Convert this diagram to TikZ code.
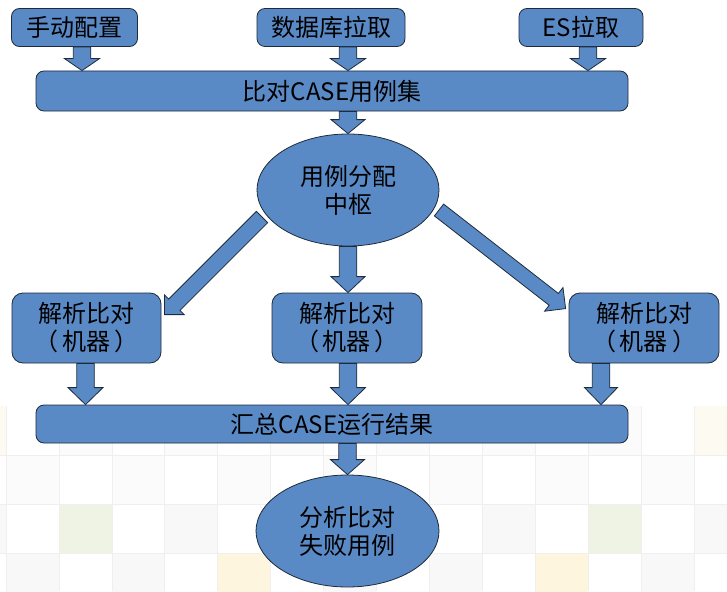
\documentclass[tikz,border=0pt]{standalone}
\usepackage{fontspec}
\setmainfont{Noto Sans CJK SC}
\usetikzlibrary{calc,shapes.geometric}

\definecolor{boxblue}{HTML}{5A8AC6}
\definecolor{boxline}{HTML}{1D2B3C}
\definecolor{gridline}{HTML}{EFEFEF}
\definecolor{cellgray}{HTML}{F8F8F8}
\definecolor{cellpale}{HTML}{FBFBFB}
\definecolor{cellgreen}{HTML}{EEF3E3}
\definecolor{cellyellow}{HTML}{FDF5DE}
\definecolor{cellcream}{HTML}{FDFBF1}

\tikzset{
  shapebase/.style={draw=boxline, line width=0.8pt, fill=boxblue, text=black,
    inner sep=0pt, font=\fontsize{24}{28}\selectfont, align=center},
  smallbox/.style={shapebase, rectangle, rounded corners=8pt},
  bigbox/.style={shapebase, rectangle, rounded corners=11pt},
  hub/.style={shapebase, ellipse},
  blockarrow/.style={draw=boxline, line width=0.8pt, fill=boxblue, line join=miter},
}

% bracketed caption with a little air inside the full-width parentheses
\newcommand\machinetag{（\kern4pt 机器\kern4pt ）}

% block arrow: #1 tail, #2 tip, #3 shaft half-width, #4 head half-width, #5 head length
\newcommand\blockarrow[5]{%
  \coordinate (ahbase) at ($(#2)!#5!(#1)$);
  \draw[blockarrow]
    ($(#1)!#3!90:(#2)$) -- ($(ahbase)!#3!90:(#2)$) -- ($(ahbase)!#4!90:(#2)$)
    -- (#2)
    -- ($(ahbase)!#4!-90:(#2)$) -- ($(ahbase)!#3!-90:(#2)$) -- ($(#1)!#3!-90:(#2)$)
    -- cycle;
}

\begin{document}
\begin{tikzpicture}[x=1pt, y=-1pt]
\useasboundingbox (0,0) rectangle (727,591);
\fill[white] (0,0) rectangle (727,591);

% faint tiled floor in the lower part
\foreach \c in {-1,1,3,5,7,9,11}
  \fill[cellpale] ({6+52.92*\c},406) rectangle ++(52.92,49);
\foreach \c in {-1,13}
  \fill[cellcream] ({6+52.92*\c},406) rectangle ++(52.92,49);
\foreach \c in {0,2,...,12}
  \fill[cellpale] ({6+52.92*\c},455) rectangle ++(52.92,49);
\foreach \c in {-1,3,5,7,9,13}
  \fill[cellgray] ({6+52.92*\c},504) rectangle ++(52.92,49);
\foreach \c in {1,11}
  \fill[cellgreen] ({6+52.92*\c},504) rectangle ++(52.92,49);
\foreach \c in {0,2,6,8,12}
  \fill[cellgray] ({6+52.92*\c},553) rectangle ++(52.92,49);
\foreach \c in {4,10}
  \fill[cellyellow] ({6+52.92*\c},553) rectangle ++(52.92,49);
\foreach \c in {0,...,13}
  \draw[gridline, line width=0.6pt] ({6+52.92*\c},406) -- ({6+52.92*\c},591);
\foreach \r in {455,504,553}
  \draw[gridline, line width=0.6pt] (0,\r) -- (727,\r);

% sources
\node[smallbox, minimum width=126pt, minimum height=38pt] (src1) at (74.5,27.5) {手动配置};
\node[smallbox, minimum width=148pt, minimum height=38pt] (src2) at (331,27.5) {数据库拉取};
\node[smallbox, minimum width=124pt, minimum height=38pt] (src3) at (581,27.5) {ES拉取};

% collected case set
\node[smallbox, minimum width=592pt, minimum height=40pt] (caseset) at (332,91) {比对CASE用例集};

% dispatcher
\node[hub, minimum width=182pt, minimum height=112pt] (hub) at (348,190) {用例分配\\中枢};

% comparison workers
\node[bigbox, minimum width=149pt, minimum height=70pt] (work1) at (86.5,328) {解析比对\\\machinetag};
\node[bigbox, minimum width=150pt, minimum height=70pt] (work2) at (347,328) {解析比对\\\machinetag};
\node[bigbox, minimum width=150pt, minimum height=70pt] (work3) at (644,328) {解析比对\\\machinetag};

% summary
\node[smallbox, minimum width=592pt, minimum height=38pt] (summary) at (332,424) {汇总CASE运行结果};

% failure analysis
\node[hub, minimum width=183pt, minimum height=112pt] (fail) at (347.5,531) {分析比对\\失败用例};

% arrow columns
\coordinate (colA) at (82,0);
\coordinate (colB) at (348,0);
\coordinate (colC) at (588,0);
\coordinate (colD) at (85.5,0);
\coordinate (colE) at (601,0);
\coordinate (colF) at (347.5,0);

% diagonal arrow ends
\coordinate (hubL) at ($(hub.center)+(-86,27)$);
\coordinate (tipL) at ($(work1.north east)+(3,22)$);
\coordinate (hubR) at ($(hub.center)+(91,20)$);
\coordinate (tipR) at ($(work3.north west)+(-3,16)$);

% sources -> case set
\blockarrow{src1.south -| colA}{caseset.north -| colA}{8.75pt}{17.5pt}{12pt}
\blockarrow{src2.south -| colB}{caseset.north -| colB}{8.75pt}{17.5pt}{12pt}
\blockarrow{src3.south -| colC}{caseset.north -| colC}{8.75pt}{17.5pt}{12pt}

% case set -> dispatcher
\blockarrow{caseset.south -| colB}{hub.north -| colB}{8.75pt}{17pt}{14pt}

% dispatcher -> workers
\blockarrow{hubL}{tipL}{8pt}{14pt}{14pt}
\blockarrow{hub.south -| colB}{work2.north -| colB}{8.75pt}{17pt}{16pt}
\blockarrow{hubR}{tipR}{7.5pt}{15pt}{15pt}

% workers -> summary
\blockarrow{work1.south -| colD}{summary.north -| colD}{8.75pt}{17.5pt}{17pt}
\blockarrow{work2.south -| colB}{summary.north -| colB}{8.75pt}{17.5pt}{17pt}
\blockarrow{work3.south -| colE}{summary.north -| colE}{8.75pt}{16.5pt}{17pt}

% summary -> failure analysis
\blockarrow{summary.south -| colF}{fail.north -| colF}{8.75pt}{17pt}{15pt}
\end{tikzpicture}
\end{document}
